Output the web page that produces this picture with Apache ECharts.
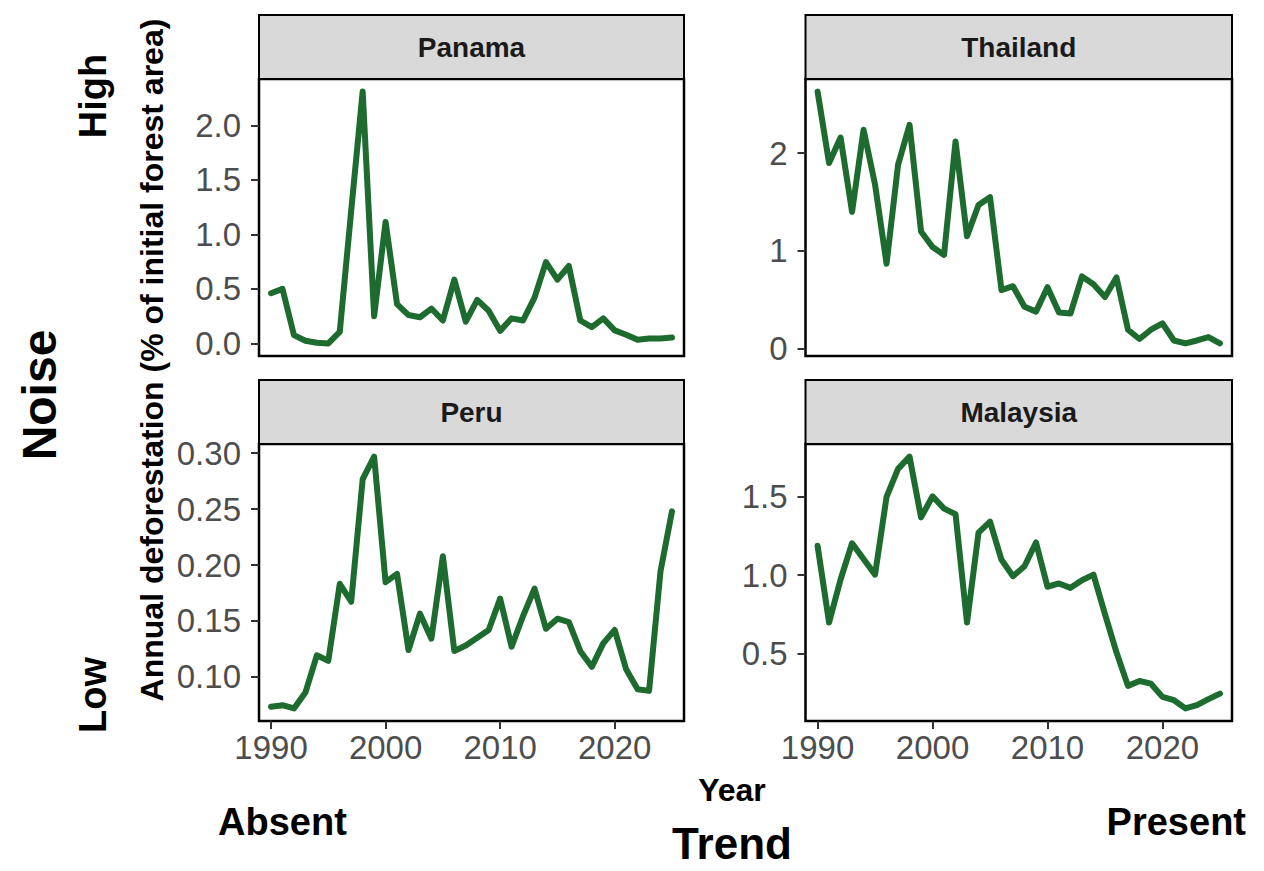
<!DOCTYPE html>
<html>
<head>
<meta charset="utf-8">
<title>Annual deforestation by trend and noise</title>
<script src="https://cdn.jsdelivr.net/npm/echarts@6/dist/echarts.min.js"></script>
<style>
  html, body { margin: 0; padding: 0; background: #ffffff; }
  #chart { width: 1264px; height: 871px; }
</style>
</head>
<body>
<div id="chart"></div>
<script>
// Years shared by every panel
const years = [1990, 1991, 1992, 1993, 1994, 1995, 1996, 1997, 1998, 1999,
               2000, 2001, 2002, 2003, 2004, 2005, 2006, 2007, 2008, 2009,
               2010, 2011, 2012, 2013, 2014, 2015, 2016, 2017, 2018, 2019,
               2020, 2021, 2022, 2023, 2024, 2025];

// Annual deforestation, % of initial forest area
const panama = [0.46, 0.50, 0.076, 0.024, 0.006, 0.0, 0.106, 1.22, 2.31, 0.25,
                1.115, 0.36, 0.26, 0.24, 0.32, 0.21, 0.585, 0.20, 0.40, 0.30,
                0.115, 0.23, 0.21, 0.42, 0.745, 0.585, 0.71, 0.21, 0.15, 0.23,
                0.12, 0.08, 0.033, 0.045, 0.045, 0.055];
const thailand = [2.63, 1.90, 2.16, 1.40, 2.24, 1.68, 0.87, 1.88, 2.29, 1.20,
                  1.04, 0.96, 2.12, 1.15, 1.47, 1.55, 0.60, 0.64, 0.43, 0.38,
                  0.63, 0.37, 0.36, 0.74, 0.66, 0.53, 0.73, 0.195, 0.10, 0.195,
                  0.26, 0.085, 0.055, 0.085, 0.12, 0.055];
const peru = [0.0733, 0.0747, 0.0718, 0.086, 0.1193, 0.1143, 0.1832, 0.1672, 0.2768, 0.297,
              0.1847, 0.1921, 0.124, 0.1565, 0.1342, 0.2079, 0.1232, 0.128, 0.135, 0.142,
              0.170, 0.127, 0.1544, 0.179, 0.143, 0.152, 0.149, 0.123, 0.109, 0.130,
              0.142, 0.1068, 0.089, 0.0875, 0.1945, 0.248];
const malaysia = [1.186, 0.699, 0.972, 1.202, 1.102, 1.003, 1.496, 1.674, 1.752, 1.366,
                  1.50, 1.422, 1.387, 0.699, 1.269, 1.339, 1.097, 0.993, 1.056, 1.207,
                  0.926, 0.947, 0.919, 0.967, 1.003, 0.752, 0.510, 0.297, 0.328, 0.311,
                  0.227, 0.206, 0.154, 0.175, 0.213, 0.248];

// Tick labels
const yearTicks = [1990, 2000, 2010, 2020];
const panamaTicks = [0.0, 0.5, 1.0, 1.5, 2.0];
const thailandTicks = [0, 1, 2];
const peruTicks = [0.10, 0.15, 0.20, 0.25, 0.30];
const malaysiaTicks = [0.5, 1.0, 1.5];

// Facet titles and outer labels
const countries = ['Panama', 'Thailand', 'Peru', 'Malaysia'];
const noiseLevels = ['High', 'Low'];
const trendLevels = ['Absent', 'Present'];

// Panel layout: column (Trend) x row (Noise)
const COLS = [{ left: 259, width: 425 }, { left: 805.5, width: 426.5 }];
const ROWS = [{ top: 79, height: 277 }, { top: 444, height: 277 }];
const STRIP_H = 64;
const FONT = '"Liberation Sans", Arial, Helvetica, sans-serif';
const LINE_COLOR = '#1d6b2e';

const panels = [
  { name: countries[0], values: panama,   ticks: panamaTicks,   digits: 1, col: 0, row: 0 },
  { name: countries[1], values: thailand, ticks: thailandTicks, digits: 0, col: 1, row: 0 },
  { name: countries[2], values: peru,     ticks: peruTicks,     digits: 2, col: 0, row: 1 },
  { name: countries[3], values: malaysia, ticks: malaysiaTicks, digits: 1, col: 1, row: 1 }
];

// x range: years padded by about one year each side
const X_MIN = 1988.95, X_MAX = 2026.05;

const grids = [], xAxes = [], yAxes = [], series = [], graphics = [];

panels.forEach((p, i) => {
  const c = COLS[p.col], r = ROWS[p.row];
  const lo = Math.min(...p.values), hi = Math.max(...p.values);
  const pad = (hi - lo) * 0.05;
  const bottomRow = p.row === ROWS.length - 1;   // only the bottom row carries year ticks

  grids.push({
    left: c.left, top: r.top, width: c.width, height: r.height,
    show: true, borderColor: '#000', borderWidth: 2.5, backgroundColor: '#fff'
  });

  xAxes.push({
    type: 'value', gridIndex: i, min: X_MIN, max: X_MAX,
    axisLine: { show: false },
    splitLine: { show: false },
    axisTick: { show: bottomRow, customValues: yearTicks, length: 8, lineStyle: { color: '#333', width: 2 } },
    axisLabel: {
      show: bottomRow, customValues: yearTicks, margin: 10,
      color: '#4d4d4d', fontSize: 33, fontFamily: FONT,
      formatter: v => String(Math.round(v))
    }
  });

  yAxes.push({
    type: 'value', gridIndex: i, min: lo - pad, max: hi + pad,
    axisLine: { show: false },
    splitLine: { show: false },
    axisTick: { show: true, customValues: p.ticks, length: 8, lineStyle: { color: '#333', width: 2 } },
    axisLabel: {
      show: true, customValues: p.ticks, margin: 18,
      color: '#4d4d4d', fontSize: 33, fontFamily: FONT,
      formatter: v => v.toFixed(p.digits)
    }
  });

  series.push({
    type: 'line', name: p.name, xAxisIndex: i, yAxisIndex: i,
    data: years.map((y, k) => [y, p.values[k]]),
    showSymbol: false, symbol: 'none', smooth: false,
    lineStyle: { color: LINE_COLOR, width: 6, cap: 'round', join: 'round' },
    silent: true, animation: false
  });

  // facet strip
  graphics.push({
    type: 'rect', z: 10,
    shape: { x: c.left, y: r.top - STRIP_H, width: c.width, height: STRIP_H },
    style: { fill: '#d9d9d9', stroke: '#000', lineWidth: 2 }
  });
  graphics.push({
    type: 'text', z: 11,
    x: c.left + c.width / 2, y: r.top - STRIP_H / 2,
    style: {
      text: p.name, align: 'center', verticalAlign: 'middle',
      font: 'bold 28px ' + FONT, fill: '#1a1a1a'
    }
  });
});

function label(text, x, y, size, rotated, align) {
  return {
    type: 'text', z: 11, x: x, y: y, rotation: rotated ? Math.PI / 2 : 0,
    style: {
      text: text, align: align || 'center', verticalAlign: 'middle',
      font: 'bold ' + size + 'px ' + FONT, fill: '#000'
    }
  };
}

// shared axis titles
graphics.push(label('Annual deforestation (% of initial forest area)', 152, 360, 32, true));
graphics.push(label('Year', 732, 790, 32, false));
// outer facet labels
graphics.push(label(noiseLevels[0], 93, 96, 38, true));
graphics.push(label(noiseLevels[1], 93, 695, 38, true));
graphics.push(label('Noise', 39, 395, 48, true));
graphics.push(label(trendLevels[0], 218, 822, 38, false, 'left'));
graphics.push(label(trendLevels[1], 1246, 822, 38, false, 'right'));
graphics.push(label('Trend', 732, 843, 44, false));

const chart = echarts.init(document.getElementById('chart'), null, { renderer: 'svg' });
chart.setOption({
  backgroundColor: '#ffffff',
  animation: false,
  grid: grids,
  xAxis: xAxes,
  yAxis: yAxes,
  series: series,
  graphic: graphics
});
</script>
</body>
</html>
